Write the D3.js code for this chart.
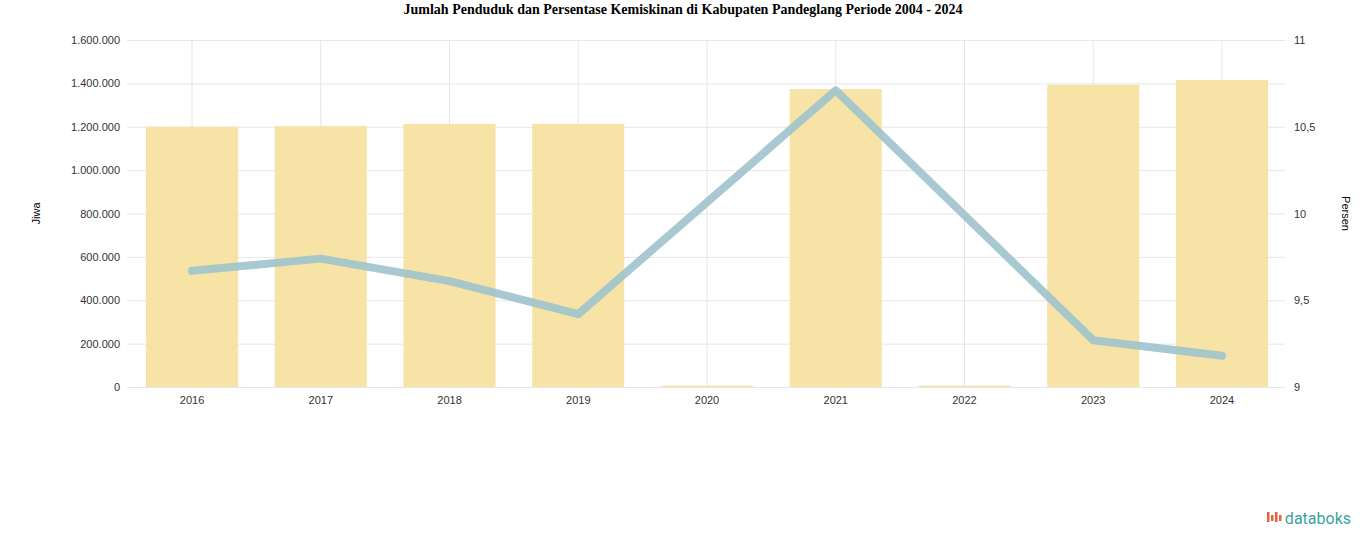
<!DOCTYPE html>
<html><head>
<meta charset="utf-8">
<script src="https://d3js.org/d3.v7.min.js"></script>
<style>
  body { margin:0; background:#fff; font-family: "Liberation Serif", serif; }
  .grid line { stroke:#e6e6e6; }
  .grid .domain { stroke:none; }
  .axis .domain, .axis line { stroke:none; }
  .axis text { font-size:11px; fill:#333; font-family:"Liberation Sans", sans-serif; }
</style>
</head><body>
<svg id="chart" width="1366" height="547"></svg>
<script>
// data
const years = ["2016","2017","2018","2019","2020","2021","2022","2023","2024"];
const penduduk = [1200000, 1203000, 1213000, 1213000, 6000, 1374000, 6000, 1393000, 1416000];
const kemiskinan = [9.67, 9.74, 9.61, 9.42, null, 10.71, null, 9.27, 9.18];
const leftTicks = [0,200000,400000,600000,800000,1000000,1200000,1400000,1600000];
const rightTicks = [9, 9.5, 10, 10.5, 11];

let svg = d3.select("#chart");
let margin = {top:40, left:127, right:81, bottom:160};
let chartWidth = 1366 - margin.left - margin.right;
let chartHeight = 547 - margin.top - margin.bottom;

svg.append("text").attr("x",683).attr("y",14).attr("text-anchor","middle")
  .style("font-weight","bold").style("font-size","14px")
  .text("Jumlah Penduduk dan Persentase Kemiskinan di Kabupaten Pandeglang Periode 2004 - 2024");

// bars sit 146..1268 on the page
const x = d3.scaleBand().domain(years).range([19, 1141]).paddingInner(0.285).paddingOuter(0);
const yL = d3.scaleLinear().domain([0,1600000]).range([chartHeight,0]);
const yR = d3.scaleLinear().domain([9,11]).range([chartHeight,0]);

let g = svg.append("g").attr("transform","translate("+margin.left+","+margin.top+")");

// gridlines
g.append("g").attr("class","grid")
  .call(d3.axisLeft(yL).tickValues(leftTicks).tickSize(-chartWidth).tickFormat(""));
g.append("g").attr("class","grid")
  .call(d3.axisBottom(x).tickSize(chartHeight).tickFormat(""));

const fmt = d => d.toLocaleString("de-DE");
g.append("g").attr("class","axis").attr("transform","translate(-4,0)")
  .call(d3.axisLeft(yL).tickValues(leftTicks).tickSize(0).tickFormat(fmt));
g.append("g").attr("class","axis").attr("transform","translate("+(chartWidth+6)+",0)")
  .call(d3.axisRight(yR).tickValues(rightTicks).tickSize(0).tickFormat(d => String(d).replace(".",",")));
g.append("g").attr("class","axis").attr("transform","translate(0,"+(chartHeight+6)+")")
  .call(d3.axisBottom(x).tickSize(0));

// bars
g.selectAll("rect.bar").data(years).join("rect")
  .attr("x", d => x(d)).attr("width", x.bandwidth())
  .attr("y", (d,i) => yL(penduduk[i]))
  .attr("height", (d,i) => chartHeight - yL(penduduk[i]))
  .attr("fill","#f7e3a6");

// line (skipping gaps)
const pts = years.map((d,i) => [d, kemiskinan[i]]).filter(p => p[1] !== null);
const line = d3.line().x(p => x(p[0]) + x.bandwidth()/2).y(p => yR(p[1]));
g.append("path").datum(pts).attr("d", line)
  .attr("fill","none").attr("stroke","#9ec3cc").attr("stroke-width",8)
  .attr("stroke-linejoin","round").attr("stroke-linecap","round").attr("opacity",0.9);

// axis titles
svg.append("text").attr("transform","translate(40,"+(margin.top+chartHeight/2)+") rotate(-90)")
  .attr("text-anchor","middle").style("font-size","11px").style("font-family","Liberation Sans, sans-serif")
  .text("Jiwa");
svg.append("text").attr("transform","translate(1342,"+(margin.top+chartHeight/2)+") rotate(90)")
  .attr("text-anchor","middle").style("font-size","11px").style("font-family","Liberation Sans, sans-serif")
  .text("Persen");

// logo
svg.append("text").attr("x",1351).attr("y",524).attr("text-anchor","end")
  .style("font-family","Roboto, sans-serif").style("font-size","16px").style("fill","#3aa3a0")
  .text("databoks");
svg.append("g").selectAll("rect").data([0,1,2,3]).join("rect")
  .attr("x", d => 1267 + d*4).attr("y", d => 512 + (d%2)*3).attr("width",2.5).attr("height", d => 10 - (d%2)*4)
  .attr("fill", "#e7613e");
</script>
</body></html>
